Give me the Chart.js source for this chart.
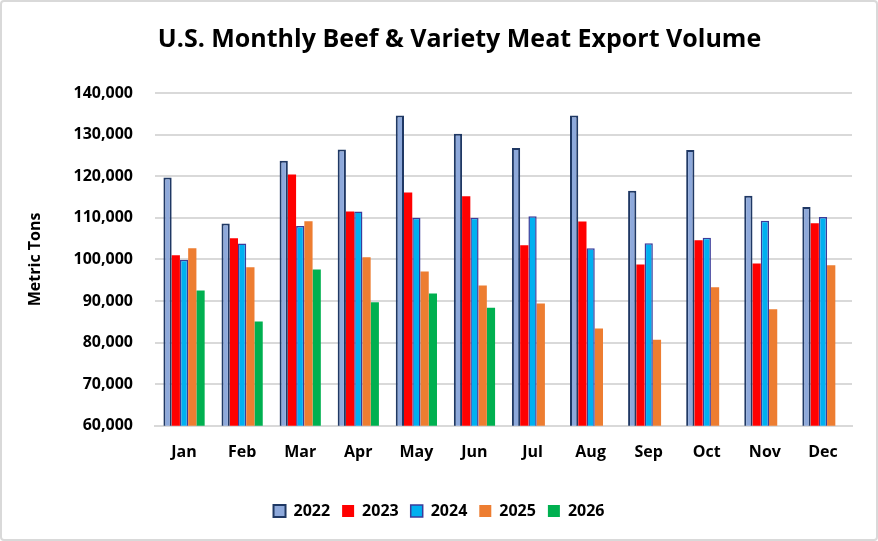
<!DOCTYPE html>
<html lang="en">
<head>
    <meta charset="UTF-8">
    <title>U.S. Monthly Beef & Variety Meat Export Volume</title>
    <script src="https://cdn.jsdelivr.net/npm/chart.js"></script>
    <style>
        html, body { margin: 0; padding: 0; background: #fff; }
        #wrap {
            width: 874px; height: 537px;
            border: 2px solid #d9d9d9; border-radius: 4px;
            background: #fff;
        }
    </style>
</head>
<body>
    <div id="wrap"><canvas id="exportChart" width="874" height="537"></canvas></div>

    <script>
        // months and yearly export volumes (metric tons)
        const months = ['Jan', 'Feb', 'Mar', 'Apr', 'May', 'Jun', 'Jul', 'Aug', 'Sep', 'Oct', 'Nov', 'Dec'];
        const v2022 = [119700, 108600, 123700, 126400, 134600, 130200, 126800, 134600, 116500, 126300, 115300, 112600];
        const v2023 = [101000, 105100, 120400, 111500, 116100, 115200, 103400, 109100, 98800, 104600, 99000, 108700];
        const v2024 = [99900, 103800, 108000, 111500, 110000, 110000, 110400, 102700, 103900, 105200, 109300, 110200];
        const v2025 = [102700, 98100, 109200, 100500, 97100, 93700, 89400, 83400, 80700, 93300, 88000, 98600];
        const v2026 = [92500, 85100, 97600, 89700, 91800, 88400];
        const yTicks = [60000, 70000, 80000, 90000, 100000, 110000, 120000, 130000, 140000];
        const chartTitle = 'U.S. Monthly Beef & Variety Meat Export Volume';

        const font = "'Open Sans', 'DejaVu Sans', sans-serif";
        Chart.defaults.font.family = font;
        Chart.defaults.color = '#000';

        // title sits a bit right of centre, over the plot area like Excel does
        const plotTitle = {
            id: 'plotTitle',
            afterDraw(chart) {
                const c = chart.ctx;
                const area = chart.chartArea;
                c.save();
                c.font = 'bold 25px ' + font;
                c.fillStyle = '#000';
                c.textAlign = 'center';
                c.textBaseline = 'middle';
                c.fillText(chartTitle, (area.left + area.right) / 2 - 44, 38);
                c.restore();
            }
        };

        const ctx = document.getElementById('exportChart').getContext('2d');
        new Chart(ctx, {
            type: 'bar',
            data: {
                labels: months,
                datasets: [
                    { label: '2022', data: v2022, backgroundColor: '#8EA9DB', borderColor: '#1F3864', borderWidth: 2 },
                    { label: '2023', data: v2023, backgroundColor: '#FF0000', borderWidth: 0 },
                    { label: '2024', data: v2024, backgroundColor: '#00B0F0', borderColor: '#3B3B9A', borderWidth: 1.5 },
                    { label: '2025', data: v2025, backgroundColor: '#ED7D31', borderWidth: 0 },
                    { label: '2026', data: v2026, backgroundColor: '#00B050', borderWidth: 0 }
                ]
            },
            options: {
                responsive: false,
                animation: false,
                layout: { padding: { left: 24, right: 24, top: 91, bottom: 10 } },
                datasets: { bar: { categoryPercentage: 0.71, barPercentage: 1.0 } },
                scales: {
                    x: {
                        grid: { display: false },
                        border: { color: '#d9d9d9', width: 2 },
                        ticks: { font: { size: 16, weight: 'bold' }, padding: 9 },
                        afterFit: axis => { axis.height += 20; }
                    },
                    y: {
                        min: 60000,
                        max: 140000,
                        afterBuildTicks: axis => { axis.ticks = yTicks.map(v => ({ value: v })); },
                        afterFit: axis => { axis.width = 129; },
                        grid: { color: '#d9d9d9', lineWidth: 2, drawTicks: false },
                        border: { display: false },
                        ticks: {
                            font: { size: 16, weight: 'bold' },
                            padding: 22,
                            callback: v => v.toLocaleString('en-US')
                        },
                        title: {
                            display: true,
                            text: 'Metric Tons',
                            font: { size: 16, weight: 'bold' },
                            padding: { top: 0, bottom: 20 }
                        }
                    }
                },
                plugins: {
                    title: { display: false },
                    legend: {
                        position: 'bottom',
                        labels: {
                            boxWidth: 12,
                            boxHeight: 12,
                            padding: 12,
                            font: { size: 16, weight: 'bold' }
                        }
                    },
                    tooltip: { enabled: false }
                }
            },
            plugins: [plotTitle]
        });
    </script>
</body>
</html>
